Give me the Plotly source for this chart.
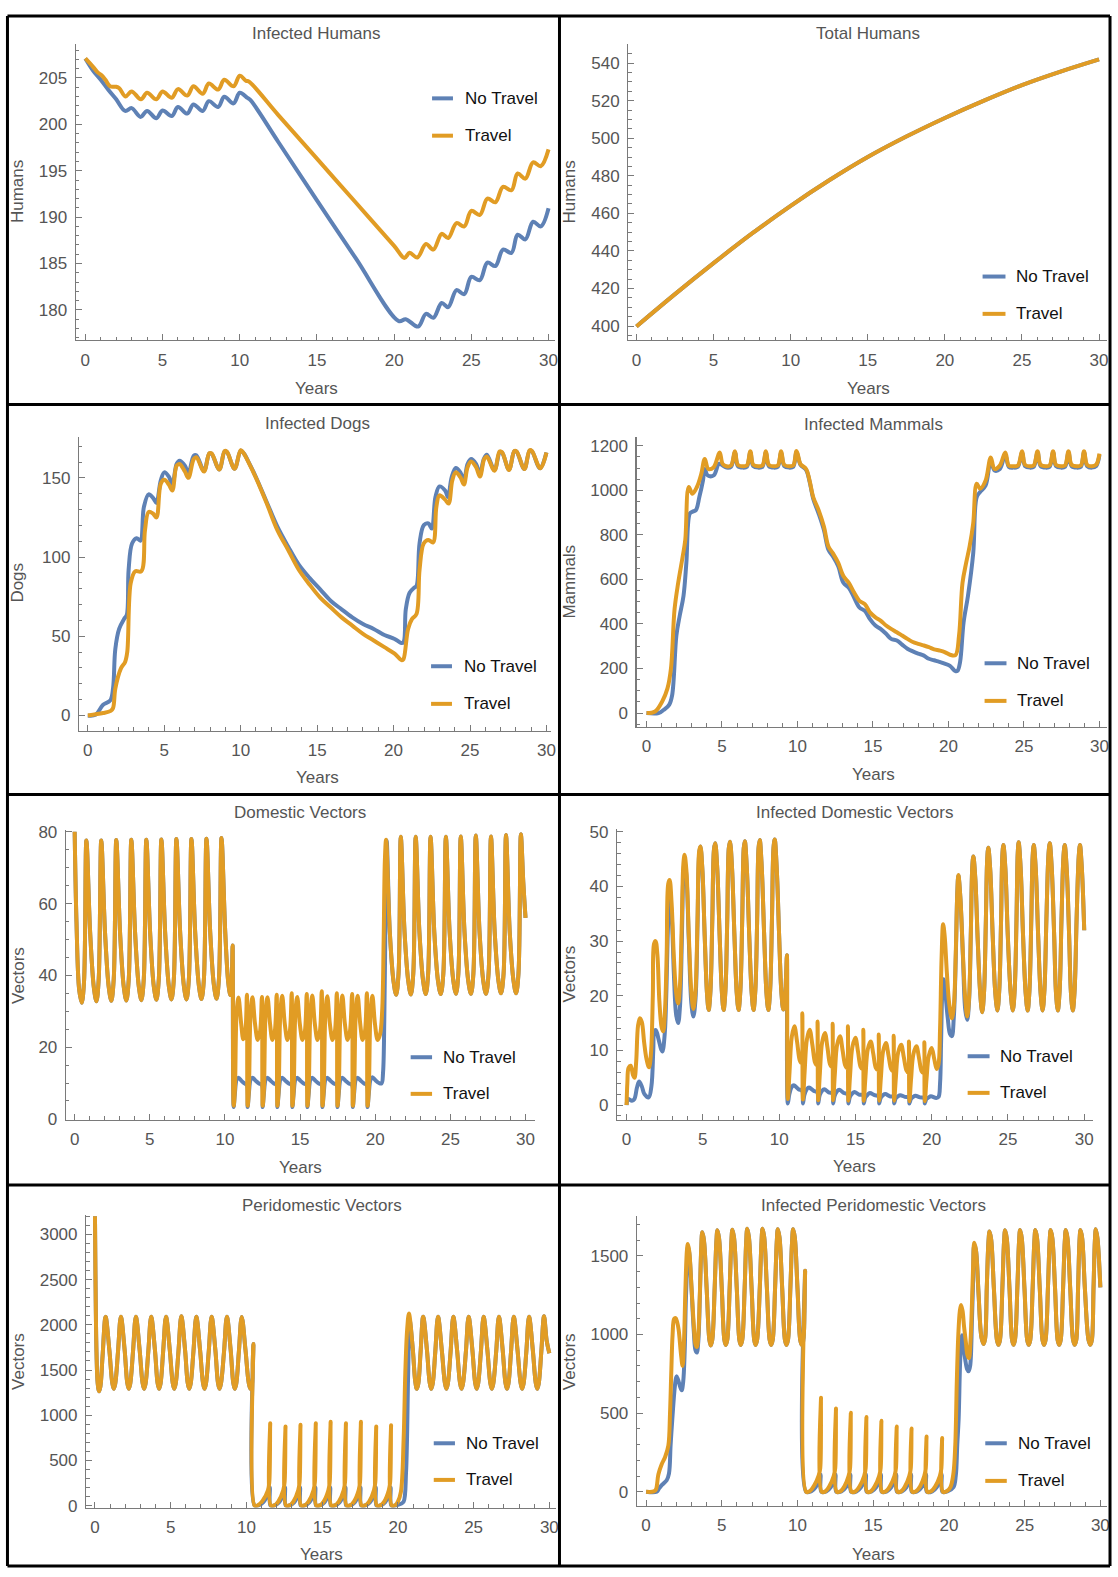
import plotly.graph_objects as go

W, H = 1118, 1577
BLUE = "#5E81B5"
ORANGE = "#E19C24"
FONT = "Liberation Sans, Arial, Helvetica, sans-serif"
LW = 4

SERIES_NAMES = ["No Travel", "Travel"]
X_LABEL = "Years"
TITLES = ["Infected Humans", "Total Humans", "Infected Dogs", "Infected Mammals",
          "Domestic Vectors", "Infected Domestic Vectors", "Peridomestic Vectors",
          "Infected Peridomestic Vectors"]
Y_LABELS = ["Humans", "Humans", "Dogs", "Mammals", "Vectors", "Vectors", "Vectors", "Vectors"]
Y_DTICK = [5, 20, 50, 200, 20, 10, 500, 500]
Y_MINOR = [1, 5, 10, 50, 5, 2, 100, 100]

# ---------------- Infected Humans ----------------
IH_NT = [(0, 207.1), (0.5, 205.8), (1.0, 204.8), (1.5, 203.7), (2.0, 202.7), (2.58, 201.45),
         (3.0, 201.75), (3.58, 200.8), (4.0, 201.45), (4.6, 200.66), (5.0, 201.5), (5.6, 200.9),
         (6.0, 201.87), (6.6, 201.16), (7.0, 202.15), (7.6, 201.44), (8.0, 202.5), (8.6, 201.87),
         (9.0, 202.97), (9.6, 202.26), (10.0, 203.4), (10.5, 202.85), (10.7, 202.6), (12.5, 198.1),
         (15.0, 191.8), (17.5, 185.6), (20.3, 178.8), (20.75, 179.0), (21.55, 178.2), (22.06, 179.57),
         (22.54, 179.15), (23.08, 180.75), (23.5, 180.3), (24.04, 182.13), (24.54, 181.7), (25.0, 183.56),
         (25.55, 183.2), (26.04, 185.1), (26.56, 184.73), (27.05, 186.5), (27.6, 186.15), (28.0, 188.1),
         (28.5, 187.6), (29.0, 189.5), (29.5, 189.0), (30.0, 190.95)]
IH_TR = [(0, 207.1), (0.5, 206.2), (0.8, 205.6), (1.05, 205.3), (1.3, 204.8), (1.6, 204.1), (2.0, 204.05),
         (2.2, 203.9), (2.6, 203.0), (3.0, 203.55), (3.6, 202.7), (4.0, 203.4), (4.6, 202.7), (5.0, 203.55),
         (5.6, 202.87), (6.0, 203.8), (6.6, 203.1), (7.0, 204.1), (7.6, 203.3), (8.0, 204.4), (8.6, 203.75),
         (9.0, 204.8), (9.6, 204.1), (10.0, 205.25), (10.4, 204.7), (10.6, 204.6), (12.5, 201.0),
         (15.0, 196.3), (17.5, 191.6), (20.0, 186.9), (20.67, 185.6), (21.0, 186.15), (21.5, 185.65),
         (22.06, 187.1), (22.54, 186.5), (23.08, 188.2), (23.5, 187.75), (24.04, 189.35), (24.54, 189.0),
         (25.0, 190.67), (25.55, 190.24), (26.04, 192.0), (26.56, 191.6), (27.05, 193.26), (27.6, 192.9),
         (28.0, 194.7), (28.5, 194.15), (29.0, 195.9), (29.5, 195.5), (30.0, 197.3)]

# ---------------- Total Humans ----------------
TH_NT = [(0, 399.8), (2.5, 417.0), (5, 433.5), (7.5, 449.3), (10, 464.0), (12.5, 477.6), (15, 490.0),
         (17.5, 500.9), (20, 510.8), (22.5, 519.9), (25, 528.3), (27.5, 535.5), (30, 542.0)]
TH_TR = [(0, 399.8), (2.5, 417.0), (5, 433.5), (7.5, 449.3), (10, 464.0), (12.5, 477.6), (15, 490.0),
         (17.5, 500.9), (20, 510.8), (22.5, 519.9), (25, 528.3), (27.5, 535.5), (30, 542.0)]

# ---------------- Infected Dogs ----------------
ID_NT = [(0, 0), (0.5, 0.4), (1.0, 6.7), (1.47, 9.5), (1.65, 17), (1.8, 42), (2.05, 54.6), (2.4, 61.3),
         (2.55, 63.5), (2.67, 92), (2.9, 108.7), (3.2, 111.9), (3.44, 110.4), (3.67, 131.7), (3.98, 139.6),
         (4.3, 136.9), (4.49, 134.2), (4.77, 148.3), (5.0, 153.5), (5.3, 150.8), (5.53, 145.8), (5.81, 158.75),
         (6.0, 160.8), (6.35, 157.7), (6.58, 152.9), (6.93, 164), (7.1, 164.3), (7.6, 154.5), (7.95, 165.4),
         (8.1, 165.2), (8.6, 155.3), (8.95, 166.6), (9.1, 166.3), (9.6, 155.8), (10.0, 167.2), (10.2, 165.5),
         (10.53, 159.8), (11.0, 150.4), (11.7, 134.8), (12.4, 119.2), (13.1, 106.7), (13.8, 95.2), (14.5, 86.9),
         (15.2, 79.6), (15.9, 72.3), (16.6, 67), (17.3, 61.9), (18.0, 57.7), (18.7, 54.6), (19.4, 50.8),
         (20.07, 48.3), (20.5, 45.8), (20.65, 46.25), (20.8, 67), (21.05, 77.5), (21.35, 80.6), (21.5, 81.7),
         (21.7, 108.75), (21.98, 120.2), (22.28, 121.25), (22.5, 118), (22.74, 137.9), (23.0, 144.6),
         (23.37, 142), (23.56, 137.9), (23.8, 150.4), (24.07, 156.25), (24.37, 153.5), (24.6, 148.3),
         (24.84, 158.75), (25.07, 161.9), (25.4, 158.75), (25.65, 152.5), (25.9, 161.9), (26.1, 164.6),
         (26.6, 155), (26.95, 166.2), (27.1, 165.8), (27.55, 155.2), (27.9, 166.8), (28.05, 166.5),
         (28.55, 155.6), (28.9, 167.2), (29.05, 166.8), (29.58, 156), (30.0, 166)]
ID_TR = [(0, 0), (1.0, 1.5), (1.5, 2.9), (1.65, 4.6), (1.8, 17), (2.16, 29.6), (2.44, 33.75), (2.58, 40),
         (2.81, 83.75), (3.1, 91), (3.5, 91), (3.74, 117), (3.98, 128.5), (4.26, 127.5), (4.49, 125),
         (4.77, 146.25), (5.0, 148.75), (5.3, 145.8), (5.53, 142), (5.81, 157.7), (6.0, 158.75), (6.35, 154),
         (6.58, 150), (6.93, 161.9), (7.1, 163), (7.6, 154), (7.95, 165.6), (8.1, 165.4), (8.6, 155.3),
         (8.95, 167), (9.1, 166.5), (9.6, 155.8), (10.0, 167.5), (10.2, 165.5), (10.53, 159.5), (11.0, 150.0),
         (11.7, 134.0), (12.4, 117), (13.1, 104.6), (13.8, 92), (14.5, 82.7), (15.2, 74.4), (15.9, 68.1),
         (16.6, 61.9), (17.3, 56.7), (18.0, 51.5), (18.7, 47.3), (19.4, 43.1), (20.07, 39), (20.55, 34.8),
         (20.65, 35.5), (20.95, 54.6), (21.2, 60.8), (21.5, 64), (21.7, 92), (21.98, 108.75), (22.28, 110.8),
         (22.58, 109.2), (22.8, 131.7), (23.0, 139), (23.37, 136.25), (23.6, 133.75), (23.84, 148.3),
         (24.07, 153.5), (24.37, 150.4), (24.6, 145.8), (24.84, 156.7), (25.07, 160.4), (25.4, 156.7),
         (25.65, 150.8), (25.93, 161.9), (26.1, 163.5), (26.6, 154.5), (26.93, 166.7), (27.1, 166.2),
         (27.55, 155), (27.9, 167), (28.05, 166.6), (28.56, 155.6), (28.9, 167.5), (29.05, 167), (29.6, 156),
         (30.0, 166)]

# ---------------- Infected Mammals ----------------
IM_TR = [(0, 0), (0.57, 7), (1.04, 52), (1.39, 111), (1.62, 200), (1.86, 467), (2.1, 585), (2.4, 704),
         (2.57, 778), (2.8, 1015), (3.04, 985), (3.34, 1015), (3.63, 1074), (3.86, 1141), (4.1, 1096),
         (4.45, 1104), (4.85, 1170), (5.04, 1119), (5.3, 1108), (5.6, 1112), (5.86, 1176), (6.05, 1115),
         (6.4, 1108), (6.65, 1112), (6.88, 1176), (7.07, 1115), (7.4, 1108), (7.68, 1112), (7.91, 1176),
         (8.1, 1115), (8.45, 1108), (8.7, 1112), (8.92, 1175), (9.12, 1115), (9.45, 1108), (9.72, 1112),
         (9.94, 1177), (10.2, 1118), (10.57, 1096), (10.8, 1044), (11.04, 970), (11.4, 911), (11.75, 837),
         (12.05, 748), (12.34, 718), (12.7, 674), (13.04, 615), (13.4, 585), (13.75, 541), (14.1, 504),
         (14.46, 489), (14.8, 452), (15.16, 430), (15.5, 415), (15.87, 393), (16.2, 378), (16.58, 363),
         (16.93, 348), (17.28, 333), (17.64, 319), (17.99, 311), (18.34, 304), (18.7, 296), (19.05, 286),
         (19.4, 281), (19.75, 274), (20.1, 262), (20.46, 260), (20.7, 348), (20.93, 585), (21.17, 674),
         (21.4, 748), (21.64, 852), (21.87, 1030), (22.1, 1007), (22.46, 1044), (22.8, 1148), (23.05, 1096),
         (23.4, 1111), (23.76, 1170), (24.0, 1111), (24.3, 1108), (24.6, 1112), (24.88, 1176), (25.07, 1115),
         (25.4, 1108), (25.65, 1112), (25.9, 1176), (26.1, 1115), (26.45, 1108), (26.7, 1112), (26.93, 1176),
         (27.12, 1115), (27.45, 1108), (27.72, 1112), (27.95, 1176), (28.15, 1115), (28.5, 1108),
         (28.77, 1112), (28.98, 1176), (29.18, 1115), (29.5, 1108), (29.78, 1115), (30.0, 1165)]
IM_NT = [(0, 0), (0.8, 0), (1.15, 15), (1.5, 37), (1.7, 81), (1.98, 348), (2.2, 437), (2.45, 526),
         (2.64, 674), (2.87, 896), (3.04, 904), (3.27, 911), (3.5, 970), (3.74, 1044), (3.86, 1096),
         (4.05, 1067), (4.45, 1067), (4.8, 1119), (5.04, 1112), (5.3, 1102), (5.6, 1106), (5.86, 1170),
         (6.05, 1109), (6.4, 1102), (6.65, 1106), (6.88, 1170), (7.07, 1109), (7.4, 1102), (7.68, 1106),
         (7.91, 1170), (8.1, 1109), (8.45, 1102), (8.7, 1106), (8.92, 1169), (9.12, 1109), (9.45, 1102),
         (9.72, 1106), (9.94, 1171), (10.2, 1114), (10.57, 1092), (10.8, 1040), (11.04, 963), (11.4, 896),
         (11.75, 822), (12.05, 733), (12.34, 704), (12.7, 659), (13.04, 585), (13.4, 563), (13.75, 519),
         (14.1, 474), (14.46, 459), (14.8, 422), (15.16, 393), (15.5, 378), (15.87, 356), (16.2, 333),
         (16.58, 326), (16.93, 307), (17.28, 289), (17.64, 277), (17.99, 267), (18.34, 259), (18.7, 244),
         (19.05, 237), (19.4, 230), (19.75, 222), (20.1, 212), (20.46, 188), (20.6, 190), (20.77, 230),
         (21.0, 407), (21.29, 526), (21.64, 718), (21.87, 970), (22.1, 993), (22.46, 1022), (22.8, 1133),
         (23.05, 1089), (23.4, 1096), (23.76, 1160), (24.0, 1105), (24.3, 1102), (24.6, 1106), (24.88, 1170),
         (25.07, 1109), (25.4, 1102), (25.65, 1106), (25.9, 1170), (26.1, 1109), (26.45, 1102), (26.7, 1106),
         (26.93, 1170), (27.12, 1109), (27.45, 1102), (27.72, 1106), (27.95, 1170), (28.15, 1109),
         (28.5, 1102), (28.77, 1106), (28.98, 1170), (29.18, 1109), (29.5, 1102), (29.78, 1109), (30.0, 1159)]

# ---------------- Domestic Vectors ----------------
DV_PRE = [(0, 80), (0.12, 55), (0.3, 36), (0.47, 32.4), (0.62, 38), (0.78, 77.6),
          (1.03, 52), (1.28, 36.5), (1.45, 32.8), (1.6, 39), (1.77, 77.6),
          (2.02, 52), (2.27, 36.6), (2.44, 32.9), (2.6, 39), (2.77, 77.7),
          (3.02, 52), (3.27, 36.7), (3.44, 33.0), (3.6, 39), (3.77, 77.8),
          (4.02, 52), (4.27, 36.8), (4.44, 33.1), (4.6, 39), (4.77, 77.8),
          (5.02, 52), (5.27, 36.8), (5.44, 33.2), (5.6, 39), (5.77, 77.9),
          (6.02, 52), (6.27, 36.9), (6.44, 33.3), (6.6, 39), (6.77, 78.0),
          (7.02, 52), (7.27, 37.0), (7.44, 33.3), (7.6, 39), (7.77, 78.0),
          (8.02, 52), (8.27, 37.0), (8.44, 33.4), (8.6, 39), (8.77, 78.1),
          (9.02, 52), (9.27, 37.1), (9.44, 33.5), (9.6, 39), (9.77, 78.3),
          (10.02, 52), (10.22, 38), (10.36, 34.5), (10.46, 40), (10.51, 48.3)]
DV_INT_TR = [(10.58, 3.7), (10.66, 8), (10.78, 30), (10.9, 33.8), (11.08, 26.5), (11.22, 22.2), (11.36, 24.5), (11.46, 34.6),
             (11.51, 3.7), (11.59, 8), (11.71, 30), (11.83, 33.9), (12.0, 26.5), (12.18, 22.0), (12.34, 24.5), (12.46, 34.0),
             (12.51, 3.7), (12.59, 8), (12.71, 30), (12.83, 33.9), (13.0, 26.5), (13.16, 22.0), (13.32, 24.5), (13.44, 34.6),
             (13.49, 3.7), (13.57, 8), (13.69, 30), (13.81, 34.3), (13.98, 26.5), (14.16, 22.0), (14.32, 24.5), (14.44, 35.0),
             (14.49, 3.7), (14.57, 8), (14.69, 30), (14.81, 34.0), (14.98, 26.5), (15.16, 22.0), (15.32, 24.5), (15.44, 34.8),
             (15.49, 3.7), (15.57, 8), (15.69, 30), (15.81, 34.4), (15.98, 26.5), (16.16, 22.0), (16.32, 24.5), (16.44, 35.6),
             (16.49, 3.7), (16.57, 8), (16.69, 30), (16.81, 34.2), (16.98, 26.5), (17.16, 22.0), (17.32, 24.5), (17.44, 35.0),
             (17.49, 3.7), (17.57, 8), (17.69, 30), (17.81, 34.4), (17.98, 26.5), (18.16, 22.0), (18.32, 24.5), (18.46, 34.8),
             (18.51, 3.7), (18.59, 8), (18.71, 30), (18.83, 34.3), (19.0, 26.5), (19.16, 22.0), (19.32, 24.5), (19.44, 35.0),
             (19.49, 3.7), (19.57, 8), (19.69, 30), (19.81, 34.3), (19.98, 26.5), (20.16, 22.0), (20.32, 23.5), (20.46, 30),
             (20.56, 50), (20.64, 72), (20.72, 77.8)]
DV_INT_NT = [(10.58, 3.3), (10.66, 7), (10.78, 11.0), (10.9, 11.5), (11.1, 10.6), (11.3, 9.9), (11.46, 9.4),
             (11.51, 3.3), (11.59, 7), (11.71, 11.0), (11.83, 11.5), (12.05, 10.6), (12.25, 9.9), (12.46, 9.4),
             (12.51, 3.3), (12.59, 7), (12.71, 11.0), (12.83, 11.5), (13.05, 10.6), (13.25, 9.9), (13.44, 9.4),
             (13.49, 3.3), (13.57, 7), (13.69, 11.0), (13.81, 11.5), (14.03, 10.6), (14.23, 9.9), (14.44, 9.4),
             (14.49, 3.3), (14.57, 7), (14.69, 11.0), (14.81, 11.5), (15.03, 10.6), (15.23, 9.9), (15.44, 9.4),
             (15.49, 3.3), (15.57, 7), (15.69, 11.0), (15.81, 11.5), (16.03, 10.6), (16.23, 9.9), (16.44, 9.4),
             (16.49, 3.3), (16.57, 7), (16.69, 11.0), (16.81, 11.5), (17.03, 10.6), (17.23, 9.9), (17.44, 9.4),
             (17.49, 3.3), (17.57, 7), (17.69, 11.0), (17.81, 11.5), (18.03, 10.6), (18.23, 9.9), (18.46, 9.4),
             (18.51, 3.3), (18.59, 7), (18.71, 11.0), (18.83, 11.5), (19.05, 10.6), (19.25, 9.9), (19.44, 9.4),
             (19.49, 3.3), (19.57, 7), (19.69, 11.0), (19.81, 11.6), (20.03, 10.7), (20.25, 10.0), (20.42, 9.9),
             (20.52, 13), (20.6, 27), (20.68, 55), (20.76, 77.6)]
DV_POST = [(20.97, 52), (21.22, 38.2), (21.39, 34.6), (21.55, 40.5), (21.70, 78.6),
           (21.95, 52), (22.2, 38.3), (22.37, 34.7), (22.53, 40.5), (22.69, 78.6),
           (22.94, 52), (23.19, 38.3), (23.36, 34.8), (23.52, 40.5), (23.68, 78.6),
           (23.93, 52), (24.18, 38.3), (24.36, 34.8), (24.53, 40.5), (24.70, 78.6),
           (24.95, 52), (25.2, 38.4), (25.37, 34.9), (25.53, 40.5), (25.69, 78.7),
           (25.94, 52), (26.19, 38.4), (26.37, 34.9), (26.53, 40.5), (26.69, 79.0),
           (26.94, 52), (27.19, 38.4), (27.37, 34.9), (27.54, 40.5), (27.70, 78.7),
           (27.95, 52), (28.2, 38.4), (28.37, 35.0), (28.54, 40.5), (28.70, 79.1),
           (28.95, 52), (29.2, 38.5), (29.37, 35.0), (29.53, 40.5), (29.69, 79.3),
           (29.85, 66), (30.0, 56)]

# ---------------- Infected Domestic Vectors ----------------
IDV_PRE_TR = [(0, 0), (0.05, 4), (0.13, 6.8), (0.27, 7.2), (0.42, 5.5), (0.52, 5.0), (0.63, 8), (0.75, 14.5),
              (0.87, 15.9), (1.0, 15.2), (1.15, 11.5), (1.3, 8.5), (1.47, 6.9), (1.6, 9.5), (1.72, 20), (1.8, 29.5),
              (1.9, 30.0), (2.02, 27.5), (2.15, 19), (2.3, 14.2), (2.4, 13.5), (2.52, 17.5), (2.63, 28), (2.73, 40.5),
              (2.82, 41.2), (2.95, 37), (3.1, 27), (3.25, 20.5), (3.38, 18.6), (3.5, 22), (3.62, 33.5), (3.72, 44),
              (3.8, 45.8), (3.92, 43), (4.08, 31), (4.25, 20.5), (4.38, 17.6), (4.52, 21), (4.65, 34), (4.76, 46.5)]
IDV_PRE_NT = [(0, 0), (0.1, 1.1), (0.35, 0.8), (0.51, 1.1), (0.68, 3.2), (0.82, 4.3), (1.0, 3.4), (1.17, 2.0),
              (1.45, 1.4), (1.63, 3.5), (1.75, 10), (1.82, 13.5), (1.92, 13.7), (2.1, 12), (2.28, 10.1), (2.35, 9.8),
              (2.5, 13), (2.6, 20), (2.72, 33), (2.82, 38), (2.95, 35), (3.1, 24), (3.25, 16.5), (3.38, 15.0),
              (3.5, 18), (3.62, 30), (3.72, 42), (3.8, 44.5), (3.92, 42), (4.08, 30), (4.25, 18.5), (4.38, 16.2),
              (4.52, 19.5), (4.65, 33), (4.76, 46)]
IDV_MID = [(4.84, 47.3), (4.97, 43), (5.12, 31), (5.27, 20.5), (5.38, 17.4), (5.5, 21), (5.62, 34), (5.73, 46.8),
           (5.81, 47.9), (5.94, 43.5), (6.1, 31), (6.25, 20.5), (6.36, 17.4), (6.48, 21), (6.6, 34), (6.7, 47),
           (6.78, 48.2), (6.91, 43.5), (7.07, 31), (7.22, 20.5), (7.34, 17.4), (7.46, 21), (7.58, 34), (7.68, 47),
           (7.75, 48.3), (7.88, 43.5), (8.04, 31), (8.2, 20.5), (8.32, 17.4), (8.44, 21), (8.56, 34), (8.65, 47),
           (8.73, 48.5), (8.86, 43.5), (9.02, 31), (9.17, 20.5), (9.29, 17.4), (9.41, 21), (9.53, 34), (9.63, 47),
           (9.71, 48.6), (9.84, 43.5), (10.0, 31), (10.15, 20.5), (10.27, 17.5), (10.38, 19.5), (10.46, 24),
           (10.51, 27.4)]
IDV_INT_TR = [(10.57, 1.1), (10.68, 6), (10.83, 12.5), (11.0, 14.4), (11.18, 11.5), (11.35, 8.2), (11.46, 7.7), (11.52, 16.8),
              (11.56, 1.0), (11.67, 6), (11.82, 12), (12.0, 13.8), (12.18, 11), (12.35, 7.8), (12.46, 7.3), (12.52, 15.3),
              (12.56, 0.9), (12.67, 5.8), (12.82, 11.5), (13.0, 13.2), (13.17, 10.5), (13.33, 7.5), (13.45, 7.0), (13.51, 14.9),
              (13.54, 0.9), (13.65, 5.6), (13.8, 11), (13.99, 12.6), (14.16, 10), (14.33, 7.3), (14.45, 6.8), (14.51, 14.4),
              (14.54, 0.8), (14.65, 5.4), (14.8, 10.6), (15.0, 12.3), (15.17, 9.8), (15.34, 7.0), (15.46, 6.6), (15.52, 13.8),
              (15.55, 0.8), (15.66, 5.2), (15.81, 10.2), (16.0, 11.65), (16.17, 9.4), (16.34, 6.8), (16.47, 6.4), (16.53, 12.9),
              (16.56, 0.8), (16.67, 5), (16.82, 9.9), (17.0, 11.35), (17.17, 9.1), (17.34, 6.6), (17.45, 6.2), (17.51, 12.7),
              (17.54, 0.8), (17.65, 4.9), (17.8, 9.6), (18.0, 11.05), (18.17, 8.8), (18.34, 6.4), (18.45, 6.0), (18.51, 11.65),
              (18.54, 0.7), (18.65, 4.8), (18.8, 9.3), (19.0, 10.75), (19.17, 8.6), (19.34, 6.2), (19.46, 5.9), (19.52, 11.5),
              (19.55, 0.7), (19.66, 4.7), (19.81, 9.0), (20.0, 10.45), (20.17, 8.4), (20.33, 6.6), (20.45, 7.5),
              (20.55, 14), (20.65, 27), (20.75, 33.1), (20.85, 31), (21.0, 24), (21.15, 18.5), (21.32, 15.9),
              (21.45, 18), (21.58, 28), (21.68, 39), (21.75, 42.1), (21.88, 38), (22.05, 27.5), (22.2, 19.5),
              (22.33, 16.2), (22.45, 19.5)]
IDV_INT_NT = [(10.57, 0.3), (10.67, 2.0), (10.82, 3.3), (10.97, 3.6), (11.27, 2.9), (11.51, 2.6),
              (11.56, 0.3), (11.66, 1.9), (11.81, 2.9), (11.96, 3.2), (12.26, 2.6), (12.51, 2.3),
              (12.56, 0.3), (12.66, 1.8), (12.81, 2.6), (12.96, 2.9), (13.26, 2.3), (13.5, 2.1),
              (13.54, 0.3), (13.64, 1.7), (13.79, 2.5), (13.94, 2.8), (14.24, 2.2), (14.5, 2.0),
              (14.54, 0.3), (14.64, 1.5), (14.79, 2.1), (14.94, 2.4), (15.24, 1.9), (15.51, 1.8),
              (15.55, 0.3), (15.65, 1.4), (15.8, 1.9), (15.95, 2.2), (16.25, 1.8), (16.52, 1.6),
              (16.56, 0.3), (16.66, 1.3), (16.81, 1.8), (16.96, 2.0), (17.26, 1.6), (17.5, 1.5),
              (17.54, 0.3), (17.64, 1.2), (17.79, 1.6), (17.94, 1.8), (18.24, 1.5), (18.5, 1.4),
              (18.54, 0.3), (18.64, 1.1), (18.79, 1.5), (18.94, 1.7), (19.24, 1.4), (19.51, 1.3),
              (19.55, 0.3), (19.65, 1.1), (19.8, 1.4), (19.95, 1.6), (20.3, 1.3), (20.45, 1.5), (20.55, 4),
              (20.62, 12), (20.7, 21), (20.78, 23), (20.88, 21), (21.05, 16), (21.2, 13), (21.32, 12.6),
              (21.45, 16), (21.58, 27), (21.68, 39), (21.75, 42), (21.88, 38), (22.05, 27), (22.2, 17.5),
              (22.33, 15.6), (22.45, 19)]
IDV_POST = [(22.57, 32), (22.66, 43.5), (22.73, 45.5), (22.86, 41.5), (23.02, 30), (23.18, 20.5), (23.31, 17.0),
            (23.43, 20.5), (23.55, 33.5), (23.64, 45), (23.71, 47.1), (23.84, 43), (24.0, 31), (24.17, 20.5), (24.31, 17.3),
            (24.43, 21), (24.55, 34), (24.63, 45.5), (24.70, 47.6), (24.83, 43.3), (24.99, 31), (25.18, 20.5), (25.32, 17.3),
            (25.44, 21), (25.56, 34), (25.64, 46), (25.70, 48.1), (25.83, 43.5), (25.99, 31), (26.16, 20.5), (26.29, 17.3),
            (26.41, 21), (26.53, 34), (26.62, 45.5), (26.69, 47.6), (26.82, 43.3), (26.98, 31), (27.14, 20.5), (27.27, 17.3),
            (27.39, 21), (27.52, 34), (27.66, 46), (27.74, 47.9), (27.87, 43.4), (28.03, 31), (28.15, 20.5), (28.27, 17.3),
            (28.39, 21), (28.51, 34), (28.64, 45.5), (28.72, 47.6), (28.85, 43.3), (29.01, 31), (29.13, 20.5), (29.25, 17.3),
            (29.37, 21), (29.5, 34), (29.64, 45.5), (29.72, 47.6), (29.85, 43), (30.0, 32)]

# ---------------- Peridomestic Vectors ----------------
PV_PRE = [(0, 3200), (0.03, 2600), (0.1, 1700), (0.18, 1350), (0.27, 1266), (0.36, 1320), (0.5, 1650), (0.7, 2088),
          (0.95, 1720), (1.14, 1360), (1.24, 1292), (1.34, 1350), (1.52, 1700), (1.71, 2090),
          (1.96, 1720), (2.13, 1360), (2.23, 1292), (2.33, 1350), (2.51, 1700), (2.70, 2090),
          (2.95, 1720), (3.14, 1360), (3.24, 1292), (3.34, 1350), (3.52, 1700), (3.71, 2090),
          (3.96, 1720), (4.13, 1360), (4.23, 1292), (4.33, 1350), (4.5, 1700), (4.69, 2090),
          (4.94, 1720), (5.13, 1360), (5.23, 1292), (5.33, 1350), (5.51, 1700), (5.70, 2095),
          (5.95, 1720), (6.12, 1360), (6.22, 1292), (6.32, 1350), (6.5, 1700), (6.69, 2090),
          (6.94, 1720), (7.13, 1360), (7.23, 1292), (7.33, 1350), (7.51, 1700), (7.70, 2090),
          (7.95, 1720), (8.12, 1360), (8.22, 1292), (8.32, 1350), (8.52, 1700), (8.71, 2090),
          (8.96, 1720), (9.13, 1360), (9.23, 1292), (9.33, 1350), (9.5, 1700), (9.69, 2088),
          (9.94, 1720), (10.15, 1360), (10.27, 1292), (10.36, 1310), (10.42, 1600), (10.46, 1788)]
PV_INT_TR = [(10.54, 0), (10.75, 3), (11.05, 50), (11.42, 170), (11.51, 260), (11.57, 912),
             (11.62, 0), (11.85, 3), (12.1, 45), (12.43, 170), (12.52, 260), (12.58, 876),
             (12.62, 0), (12.85, 3), (13.1, 45), (13.42, 170), (13.51, 260), (13.57, 894),
             (13.62, 0), (13.85, 3), (14.1, 45), (14.43, 170), (14.52, 260), (14.58, 912),
             (14.62, 0), (14.85, 3), (15.1, 45), (15.41, 170), (15.5, 260), (15.56, 927),
             (15.61, 0), (15.84, 3), (16.1, 45), (16.42, 170), (16.51, 260), (16.57, 912),
             (16.62, 0), (16.85, 3), (17.1, 45), (17.41, 170), (17.5, 260), (17.56, 927),
             (17.61, 0), (17.84, 3), (18.1, 45), (18.42, 170), (18.51, 260), (18.57, 876),
             (18.62, 0), (18.85, 3), (19.1, 45), (19.4, 170), (19.49, 260), (19.55, 890),
             (19.6, 0), (19.82, 3), (20.0, 44), (20.2, 153), (20.38, 737), (20.49, 1467), (20.61, 1942),
             (20.73, 2124)]
PV_INT_NT = [(10.54, 0), (10.8, 2), (11.1, 35), (11.42, 130), (11.54, 200), (11.59, 0),
             (11.85, 2), (12.15, 35), (12.45, 130), (12.55, 200), (12.6, 0),
             (12.85, 2), (13.15, 35), (13.44, 130), (13.54, 200), (13.59, 0),
             (13.85, 2), (14.15, 35), (14.45, 130), (14.55, 200), (14.6, 0),
             (14.85, 2), (15.15, 35), (15.43, 130), (15.53, 200), (15.58, 0),
             (15.85, 2), (16.15, 35), (16.44, 130), (16.54, 200), (16.59, 0),
             (16.85, 2), (17.15, 35), (17.43, 130), (17.53, 200), (17.58, 0),
             (17.85, 2), (18.15, 35), (18.44, 130), (18.54, 200), (18.59, 0),
             (18.85, 2), (19.15, 35), (19.42, 130), (19.52, 200), (19.57, 0),
             (19.85, 2), (20.2, 20), (20.38, 44), (20.54, 372), (20.68, 1467), (20.78, 2050)]
PV_POST = [(20.98, 1740), (21.15, 1370), (21.25, 1292), (21.35, 1350), (21.5, 1700), (21.67, 2090),
           (21.92, 1720), (22.1, 1360), (22.2, 1292), (22.3, 1350), (22.47, 1700), (22.65, 2090),
           (22.9, 1720), (23.1, 1360), (23.2, 1292), (23.3, 1350), (23.48, 1700), (23.66, 2090),
           (23.91, 1720), (24.1, 1360), (24.2, 1292), (24.3, 1350), (24.49, 1700), (24.67, 2090),
           (24.92, 1720), (25.1, 1360), (25.2, 1292), (25.3, 1350), (25.48, 1700), (25.66, 2090),
           (25.91, 1720), (26.1, 1360), (26.2, 1292), (26.3, 1350), (26.49, 1700), (26.67, 2090),
           (26.92, 1720), (27.1, 1360), (27.2, 1292), (27.3, 1350), (27.47, 1700), (27.65, 2090),
           (27.9, 1720), (28.1, 1360), (28.2, 1292), (28.3, 1350), (28.48, 1700), (28.66, 2090),
           (28.91, 1720), (29.1, 1360), (29.2, 1292), (29.3, 1350), (29.47, 1700), (29.65, 2095),
           (29.82, 1830), (30.0, 1686)]

# ---------------- Infected Peridomestic Vectors ----------------
IPV_PRE_TR = [(0, 0), (0.5, 2), (0.65, 15), (0.81, 110), (1.03, 175), (1.25, 220), (1.47, 294), (1.58, 500),
              (1.66, 750), (1.75, 1000), (1.85, 1100), (1.95, 1105), (2.05, 1080), (2.15, 1030), (2.3, 880),
              (2.41, 800), (2.5, 950), (2.6, 1300), (2.7, 1540), (2.76, 1575), (2.85, 1530), (3.0, 1300),
              (3.15, 1060), (3.26, 940), (3.35, 920), (3.45, 1000), (3.55, 1259), (3.64, 1550)]
IPV_PRE_NT = [(0, 0), (0.7, 0), (0.85, 20), (1.03, 42), (1.36, 73), (1.51, 115), (1.62, 300), (1.73, 461),
              (1.9, 671), (2.0, 734), (2.1, 715), (2.24, 671), (2.35, 646), (2.45, 700), (2.55, 900), (2.62, 1200),
              (2.69, 1400), (2.76, 1560), (2.85, 1520), (3.0, 1290), (3.15, 1020), (3.26, 900), (3.35, 885),
              (3.45, 960), (3.55, 1240), (3.64, 1540)]
IPV_MID = [(3.71, 1650), (3.82, 1600), (4.0, 1290), (4.18, 965), (4.27, 930), (4.37, 965), (4.53, 1300), (4.64, 1590),
           (4.71, 1663), (4.82, 1610), (5.0, 1290), (5.17, 965), (5.26, 933), (5.36, 965), (5.52, 1300), (5.63, 1590),
           (5.70, 1667), (5.81, 1615), (5.99, 1290), (6.16, 965), (6.25, 933), (6.35, 965), (6.51, 1300), (6.61, 1590),
           (6.68, 1673), (6.79, 1620), (6.97, 1290), (7.14, 965), (7.23, 933), (7.33, 965), (7.51, 1300), (7.62, 1590),
           (7.69, 1673), (7.8, 1620), (7.98, 1290), (8.16, 965), (8.26, 933), (8.36, 965), (8.52, 1300), (8.63, 1590),
           (8.70, 1670), (8.81, 1618), (8.99, 1290), (9.17, 965), (9.27, 933), (9.37, 965), (9.53, 1300), (9.64, 1590),
           (9.71, 1670), (9.82, 1618), (10.0, 1290), (10.18, 965), (10.28, 935), (10.38, 960), (10.46, 1150),
           (10.5, 1405)]
IPV_INT_TR = [(10.57, 0), (10.8, 3), (11.1, 40), (11.4, 105), (11.5, 150), (11.55, 598),
              (11.6, 0), (11.85, 3), (12.1, 35), (12.39, 100), (12.49, 150), (12.54, 529),
              (12.59, 0), (12.84, 3), (13.1, 35), (13.37, 100), (13.47, 150), (13.52, 503),
              (13.57, 0), (13.84, 3), (14.1, 35), (14.4, 100), (14.5, 150), (14.55, 476),
              (14.6, 0), (14.85, 3), (15.1, 35), (15.39, 100), (15.49, 150), (15.54, 451),
              (15.59, 0), (15.84, 3), (16.1, 35), (16.4, 100), (16.5, 150), (16.55, 415),
              (16.6, 0), (16.85, 3), (17.1, 35), (17.38, 100), (17.48, 150), (17.53, 403),
              (17.58, 0), (17.83, 3), (18.1, 35), (18.37, 100), (18.47, 150), (18.52, 352),
              (18.57, 0), (18.82, 3), (19.1, 35), (19.4, 100), (19.5, 150), (19.55, 342),
              (19.6, 0), (19.85, 3), (20.1, 30), (20.3, 120), (20.42, 300), (20.52, 700), (20.62, 1000),
              (20.72, 1150), (20.8, 1188), (20.9, 1150), (21.0, 1049), (21.12, 950), (21.22, 870), (21.32, 850),
              (21.42, 950), (21.52, 1196), (21.6, 1450), (21.67, 1584)]
IPV_INT_NT = [(10.57, 0), (10.9, 3), (11.2, 30), (11.42, 80), (11.52, 110), (11.57, 0),
              (11.9, 3), (12.2, 30), (12.42, 80), (12.51, 110), (12.56, 0),
              (12.9, 3), (13.2, 30), (13.4, 80), (13.49, 110), (13.54, 0),
              (13.9, 3), (14.2, 30), (14.43, 80), (14.52, 110), (14.57, 0),
              (14.9, 3), (15.2, 30), (15.42, 80), (15.51, 110), (15.56, 0),
              (15.9, 3), (16.2, 30), (16.43, 80), (16.52, 110), (16.57, 0),
              (16.9, 3), (17.2, 30), (17.41, 80), (17.5, 110), (17.55, 0),
              (17.9, 3), (18.2, 30), (18.4, 80), (18.49, 110), (18.54, 0),
              (18.9, 3), (19.2, 30), (19.43, 80), (19.52, 110), (19.57, 0),
              (19.9, 3), (20.3, 30), (20.45, 100), (20.55, 300), (20.64, 461), (20.75, 850), (20.86, 996),
              (20.95, 940), (21.08, 839), (21.2, 780), (21.3, 766), (21.4, 800), (21.52, 1091), (21.6, 1350),
              (21.67, 1570)]
IPV_POST = [(21.78, 1540), (21.95, 1270), (22.15, 980), (22.29, 940), (22.39, 975), (22.5, 1300), (22.61, 1590),
            (22.68, 1655), (22.79, 1605), (22.97, 1290), (23.17, 965), (23.27, 935), (23.37, 965), (23.53, 1300),
            (23.64, 1590), (23.71, 1663), (23.82, 1610), (24.0, 1290), (24.17, 965), (24.26, 935), (24.36, 965),
            (24.52, 1300), (24.63, 1590), (24.70, 1665), (24.81, 1612), (24.99, 1290), (25.17, 965), (25.27, 935),
            (25.37, 965), (25.53, 1300), (25.64, 1590), (25.71, 1665), (25.82, 1612), (26.0, 1290), (26.18, 965),
            (26.28, 935), (26.38, 965), (26.54, 1300), (26.65, 1590), (26.72, 1665), (26.83, 1612), (27.01, 1290),
            (27.18, 965), (27.28, 935), (27.38, 965), (27.54, 1300), (27.65, 1590), (27.72, 1665), (27.83, 1612),
            (28.01, 1290), (28.2, 965), (28.31, 935), (28.41, 965), (28.53, 1300), (28.62, 1590), (28.69, 1665),
            (28.8, 1612), (28.98, 1290), (29.22, 965), (29.34, 935), (29.44, 965), (29.55, 1300), (29.64, 1600),
            (29.7, 1670), (29.81, 1610), (30.0, 1300)]

SERIES = [
    (IH_NT, IH_TR),
    (TH_NT, TH_TR),
    (ID_NT, ID_TR),
    (IM_NT, IM_TR),
    (DV_PRE + DV_INT_NT + DV_POST, DV_PRE + DV_INT_TR + DV_POST),
    (IDV_PRE_NT + IDV_MID + IDV_INT_NT + IDV_POST, IDV_PRE_TR + IDV_MID + IDV_INT_TR + IDV_POST),
    (PV_PRE + PV_INT_NT + PV_POST, PV_PRE + PV_INT_TR + PV_POST),
    (IPV_PRE_NT + IPV_MID + IPV_INT_NT + IPV_POST, IPV_PRE_TR + IPV_MID + IPV_INT_TR + IPV_POST),
]

# ---------------- layout geometry (pixels) ----------------
GEOM = [
    dict(ax=76, ay=336.7, x0=85.7, x30=551.0, xe=557, yt=37.3, c1=(205, 71.7), c2=(180, 306.0),
         ti=(318, 26.7), yl=(18.3, 186.7), xl=(318, 385), lg=(434, 455, 465, 92.3, 130)),
    dict(ax=631, ay=336.7, x0=639.3, x30=1104.0, xe=1112, yt=37.3, c1=(540, 56.7), c2=(400, 322.3),
         ti=(872.3, 26.7), yl=(572.3, 186.7), xl=(872.3, 385), lg=(987, 1010, 1018.5, 272.3, 310)),
    dict(ax=79.3, ay=731, x0=88.2, x30=548.9, xe=553, yt=434.3, c1=(150, 475.7), c2=(0, 715.7),
         ti=(319, 421), yl=(17.9, 581.7), xl=(319, 778.3), lg=(433, 454, 463.6, 666, 704)),
    dict(ax=639.4, ay=727.3, x0=649.4, x30=1104.4, xe=1112, yt=434.3, c1=(1200, 443.3), c2=(0, 713.3),
         ti=(877, 422), yl=(572, 580), xl=(877, 775), lg=(989, 1011, 1019.8, 663, 701)),
    dict(ax=66.1, ay=1124, x0=75, x30=527.9, xe=537.5, yt=831.7, c1=(80, 833.3), c2=(0, 1123.3),
         ti=(301.8, 814), yl=(17.9, 978), xl=(301.8, 1172), lg=(412.5, 434, 442.9, 1061, 1098)),
    dict(ax=619.8, ay=1124, x0=629.4, x30=1089.1, xe=1098, yt=830.7, c1=(50, 833.3), c2=(0, 1109.3),
         ti=(858, 814), yl=(572.3, 976.7), xl=(858, 1171.7), lg=(972, 994, 1002.6, 1060, 1097)),
    dict(ax=86.4, ay=1516, x0=95.4, x30=551.8, xe=558, yt=1220.7, c1=(3000, 1240), c2=(0, 1514),
         ti=(323.2, 1210.7), yl=(17.9, 1368), xl=(323.2, 1563), lg=(435.7, 457, 466, 1451, 1488)),
    dict(ax=639.7, ay=1514.3, x0=649, x30=1105.3, xe=1112, yt=1221, c1=(1500, 1261.7), c2=(0, 1500),
         ti=(877.3, 1210.7), yl=(572.3, 1368.3), xl=(877.3, 1563.3), lg=(989.7, 1011.3, 1020.3, 1451, 1489)),
]

AXIS_GRAY = "#7a7a7a"
TEXT_GRAY = "#555555"


def px(x):
    return x / W


def py(y):
    return 1 - y / H


def unz(pairs):
    return [p[0] for p in pairs], [p[1] for p in pairs]


fig = go.Figure()
layout = dict(width=W, height=H, margin=dict(l=0, r=0, t=0, b=0), paper_bgcolor="white",
              plot_bgcolor="white", showlegend=False, font=dict(family=FONT, size=17, color=TEXT_GRAY))
shapes = []
annotations = []

for i, (g, series) in enumerate(zip(GEOM, SERIES)):
    n = i + 1
    xs = "x" if n == 1 else f"x{n}"
    ys = "y" if n == 1 else f"y{n}"
    for pairs, color, name in zip(series, [BLUE, ORANGE], SERIES_NAMES):
        t, v = unz(pairs)
        fig.add_trace(go.Scatter(x=t, y=v, mode="lines", name=name, xaxis=xs, yaxis=ys,
                                 line=dict(color=color, width=LW, shape="spline", smoothing=1),
                                 hoverinfo="skip", showlegend=False))
    sx = 30.0 / (g["x30"] - g["x0"])
    xr = [(g["ax"] - g["x0"]) * sx, (g["xe"] - g["x0"]) * sx]
    (v1, p1), (v2, p2) = g["c1"], g["c2"]
    k = (v2 - v1) / (p2 - p1)
    yr = [v1 + (g["ay"] - p1) * k, v1 + (g["yt"] - p1) * k]
    common = dict(showline=True, linecolor=AXIS_GRAY, linewidth=1.1, ticks="inside", tickcolor=AXIS_GRAY,
                  tickwidth=1, showgrid=False, zeroline=False, fixedrange=True,
                  tickfont=dict(family=FONT, size=17, color=TEXT_GRAY))
    layout["xaxis" if n == 1 else f"xaxis{n}"] = dict(
        common, domain=[px(g["ax"]), px(g["xe"])], range=xr, anchor=ys, tick0=0, dtick=5, ticklen=6,
        ticklabelstandoff=4,
        minor=dict(tick0=0, dtick=1, ticks="inside", ticklen=3.5, tickcolor=AXIS_GRAY, tickwidth=1))
    layout["yaxis" if n == 1 else f"yaxis{n}"] = dict(
        common, domain=[py(g["ay"]), py(g["yt"])], range=yr, anchor=xs, tick0=0, dtick=Y_DTICK[i], ticklen=6,
        ticklabelstandoff=4,
        minor=dict(tick0=0, dtick=Y_MINOR[i], ticks="inside", ticklen=3.5, tickcolor=AXIS_GRAY, tickwidth=1))

    annotations.append(dict(text=TITLES[i], x=px(g["ti"][0]), y=py(g["ti"][1]), xref="paper", yref="paper",
                            xanchor="center", yanchor="middle", showarrow=False,
                            font=dict(family=FONT, size=17, color=TEXT_GRAY)))
    annotations.append(dict(text=Y_LABELS[i], x=px(g["yl"][0]), y=py(g["yl"][1]), xref="paper", yref="paper",
                            xanchor="center", yanchor="middle", showarrow=False, textangle=-90,
                            font=dict(family=FONT, size=17, color=TEXT_GRAY)))
    annotations.append(dict(text=X_LABEL, x=px(g["xl"][0]), y=py(g["xl"][1]), xref="paper", yref="paper",
                            xanchor="center", yanchor="middle", showarrow=False,
                            font=dict(family=FONT, size=17, color=TEXT_GRAY)))
    lx0, lx1, tx, ly1, ly2 = g["lg"]
    for ly, color, name in zip([ly1, ly2], [BLUE, ORANGE], SERIES_NAMES):
        shapes.append(dict(type="line", xref="paper", yref="paper", x0=px(lx0), x1=px(lx1), y0=py(ly), y1=py(ly),
                           line=dict(color=color, width=4)))
        annotations.append(dict(text=name, x=px(tx), y=py(ly), xref="paper", yref="paper", xanchor="left",
                                yanchor="middle", showarrow=False, font=dict(family=FONT, size=17, color="#111111")))

# panel frames
BX = [7.5, 562, 1115]
BY = [9, 401.7, 795.5, 1190, 1575]
for x in BX:
    shapes.append(dict(type="line", xref="paper", yref="paper", x0=px(x), x1=px(x), y0=py(BY[0]), y1=py(BY[-1]),
                       line=dict(color="black", width=3)))
for y in BY:
    shapes.append(dict(type="line", xref="paper", yref="paper", x0=px(BX[0]), x1=px(BX[-1]), y0=py(y), y1=py(y),
                       line=dict(color="black", width=3)))

layout["shapes"] = shapes
layout["annotations"] = annotations
fig.update_layout(**layout)
fig.write_html("out.html", config={"displayModeBar": False, "staticPlot": True},
               post_script="document.body.style.margin='0';document.body.style.padding='0';"
                           "document.documentElement.style.overflow='hidden';")
